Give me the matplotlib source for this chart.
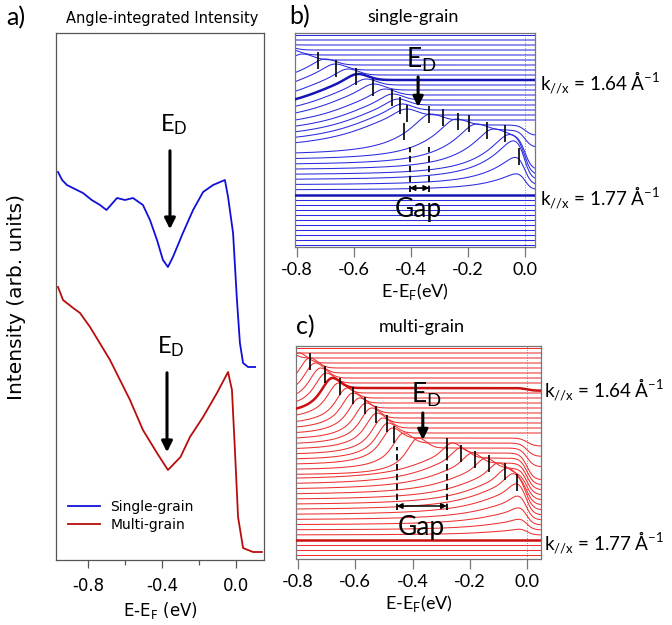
import numpy as np
import matplotlib.pyplot as plt
from matplotlib.ticker import FixedLocator, FormatStrFormatter

plt.rcParams['axes.unicode_minus'] = False

# ---- panel a: angle-integrated intensity (arb. units)
a_energy_single = [-0.962, -0.94, -0.914, -0.86, -0.827, -0.78, -0.735, -0.70, -0.643, -0.60,
                   -0.557, -0.503, -0.465, -0.427, -0.395, -0.368, -0.341, -0.287, -0.232,
                   -0.178, -0.124, -0.06, -0.043, -0.016, 0.005, 0.021, 0.038, 0.065, 0.103]
a_int_single = [388, 380, 375, 370, 367, 360, 355, 350, 362, 360,
                362, 355, 340, 320, 300, 293, 303, 327, 350,
                368, 375, 380, 363, 327, 260, 217, 197, 193, 193]
a_energy_multi = [-0.962, -0.935, -0.88, -0.843, -0.789, -0.73, -0.681, -0.573, -0.503, -0.427,
                  -0.368, -0.30, -0.249, -0.178, -0.103, -0.043, -0.022, -0.006, 0.011,
                  0.038, 0.092, 0.140]
a_int_multi = [273, 260, 252, 247, 233, 215, 200, 160, 130, 107,
               90, 103, 123, 143, 167, 188, 170, 110, 43,
               12, 8, 8]

# ---- panel b: EDC stack, single grain (top curve first)
b_peak_energy = [-1.0, -0.95, -0.90, -0.86, -0.83, -0.78, -0.70, -0.665, -0.62, -0.585,
                 -0.556, -0.53, -0.49, -0.463, -0.445, -0.43, -0.415, -0.33, -0.24, -0.17,
                 -0.11, -0.05, -0.03, -0.015, -0.005, 0.0, 0.05, 0.05, 0.05, 0.05,
                 0.05, 0.05, 0.05, 0.05, 0.05, 0.05]
b_peak_rise = [35] * 23 + [26, 16] + [0] * 11
b_peak_width = [0.2] * 17 + [0.12] * 19
b_fermi_cut = [0] * 18 + [0.3, 0.5] + [1] * 16
b_thick = [9, 25]
b_disp_energy = [-0.725, -0.662, -0.592, -0.533, -0.466, -0.438, -0.413, -0.424,
                 -0.336, -0.287, -0.235, -0.196, -0.133, -0.070, -0.021]
b_disp_level = [186.5, 178.5, 170.5, 159.5, 150, 142, 133.5, 115.5,
                132.5, 129.5, 125.5, 123.5, 117, 113.5, 91]
b_gap = [-0.405, -0.336]

# ---- panel c: EDC stack, multi grain
c_peak_energy = [-1.0, -0.9, -0.85, -0.797, -0.759, -0.74, -0.721, -0.702, -0.68, -0.658,
                 -0.628, -0.608, -0.585, -0.562, -0.543, -0.524, -0.503, -0.485, -0.47, -0.43,
                 -0.38, -0.26, -0.231, -0.19, -0.143, -0.10, -0.068, -0.045, -0.03, -0.022,
                 -0.016, -0.012, -0.008, 0.0, 0.05, 0.05, 0.05]
c_peak_rise = [27] * 28 + [24, 19, 14, 9, 5, 0, 0, 0, 0]
c_peak_width = [0.07] * 21 + [0.15] * 16
c_fermi_cut = [0] * 8 + [0.1] + [0] * 9 + [0.3, 0.5, 0.7] + [1] * 16
c_thick = [8, 33]
c_disp_energy = [-0.759, -0.706, -0.654, -0.608, -0.566, -0.528, -0.490, -0.465,
                 -0.280, -0.231, -0.182, -0.133, -0.077, -0.035]
c_disp_level = [198, 184.5, 172.5, 163.5, 154, 144.5, 135.5, 124.5,
                112.5, 105.5, 100, 95.5, 87.5, 77]
c_gap = [-0.455, -0.280]

LABEL_FONT = 'Lato'
TEXT_FONT = 'DejaVu Sans'


def edc(energy, peak, rise, width, cut, bump_frac, bump_width, kt=0.012):
    arc = np.where(energy < peak, 1 / (1 + ((peak - energy) / width) ** 2), 1.0)
    bump = bump_frac * np.exp(-((energy - peak) / bump_width) ** 2)
    fermi = 1 / (1 + np.exp(energy / kt))
    return rise * (arc + bump) * (1 - cut * (1 - fermi))


def style_frame(ax, color):
    for spine in ax.spines.values():
        spine.set_color(color)
        spine.set_linewidth(0.9)
    ax.set_yticks([])


def plot_angle_integrated(ax):
    ax.plot(a_energy_single, a_int_single, color='#1010d8', lw=1.3, label='Single-grain')
    ax.plot(a_energy_multi, a_int_multi, color='#b80d0d', lw=1.3, label='Multi-grain')
    ax.set_xlim(-0.973, 0.151)
    ax.set_ylim(0, 527)
    style_frame(ax, '#555555')
    ax.xaxis.set_major_locator(FixedLocator([-0.8, -0.4, 0.0]))
    ax.xaxis.set_minor_locator(FixedLocator([-0.6, -0.2]))
    ax.xaxis.set_major_formatter(FormatStrFormatter('%.1f'))
    ax.tick_params(axis='x', which='major', direction='out', length=6, width=0.9,
                   color='#555555', labelsize=12, pad=6)
    ax.tick_params(axis='x', which='minor', direction='out', length=3.5, width=0.9,
                   color='#555555')
    ax.set_xlabel('E-E$_{\\mathregular{F}}$ (eV)', fontsize=12, family=TEXT_FONT, labelpad=4)

    for xe, tail, tip, ty in [(-0.357, 412, 328, 435), (-0.373, 190, 105, 213)]:
        ax.annotate('', xy=(xe, tip), xytext=(xe, tail),
                    arrowprops=dict(arrowstyle='-|>', lw=2.2, color='k', mutation_scale=16))
        ax.text(xe + 0.02, ty, r'$\mathregular{E_D}$', fontsize=17, family=LABEL_FONT,
                ha='center', va='center')

    ax.legend(loc='lower left', bbox_to_anchor=(0.0, 0.03), frameon=False,
              handlelength=2.3, handletextpad=0.7, labelspacing=0.25,
              prop={'family': TEXT_FONT, 'size': 10})


def plot_stack(ax, peaks, rises, widths, cuts, thick, low_top, bump, xlim, ylim,
               color, thick_color):
    energy = np.linspace(xlim[0], xlim[1], 600)
    for i, (peak, rise, width, cut) in enumerate(zip(peaks, rises, widths, cuts)):
        y = low_top - 5 * i + edc(energy, peak, rise, width, cut, *bump)
        if i in thick:
            ax.plot(energy, y, color=thick_color, lw=1.8, zorder=3)
        else:
            ax.plot(energy, y, color=color, lw=0.75, zorder=2)
    ax.axvline(0.0, color='0.55', lw=0.7, ls=':', zorder=1)
    ax.set_xlim(*xlim)
    ax.set_ylim(*ylim)
    style_frame(ax, '#777777')
    ax.set_xticks([-0.8, -0.6, -0.4, -0.2, 0.0])
    ax.xaxis.set_major_formatter(FormatStrFormatter('%.1f'))
    ax.tick_params(axis='x', direction='out', length=7, width=0.9, color='#777777',
                   labelsize=13, pad=4)
    for label in ax.get_xticklabels():
        label.set_family(LABEL_FONT)
    ax.set_xlabel('E-E$_{\\mathregular{F}}$(eV)', fontsize=13, family=LABEL_FONT, labelpad=2)


def mark_dispersion(ax, energies, levels, half=8.5):
    levels = np.asarray(levels)
    ax.vlines(energies, levels - half, levels + half, color='k', lw=1.2, zorder=5)


def mark_gap(ax, gap, y_bottom, y_top, y_arrow, gap_y, ed_x, ed_tail, ed_tip, ed_y):
    for xg in gap:
        ax.plot([xg, xg], [y_bottom, y_top], color='k', lw=1.3, ls=(0, (3.5, 2)), zorder=5)
    ax.annotate('', xy=(gap[1], y_arrow), xytext=(gap[0], y_arrow),
                arrowprops=dict(arrowstyle='<|-|>', lw=1.1, color='k', mutation_scale=8,
                                shrinkA=0, shrinkB=0), zorder=6)
    ax.text(np.mean(gap) - 0.002, gap_y, 'Gap', fontsize=19, family=LABEL_FONT,
            ha='center', va='center', zorder=6)
    ax.annotate('', xy=(ed_x, ed_tip), xytext=(ed_x, ed_tail),
                arrowprops=dict(arrowstyle='-|>', lw=2.2, color='k', mutation_scale=15,
                                shrinkA=0, shrinkB=0), zorder=6)
    ax.text(ed_x + 0.012, ed_y, r'$\mathregular{E_D}$', fontsize=19, family=LABEL_FONT,
            ha='center', va='center', zorder=6)


def main():
    fig = plt.figure(figsize=(6.72, 6.25), dpi=100)
    ax_a = fig.add_axes([0.0833, 0.104, 0.3095, 0.8432])
    ax_b = fig.add_axes([0.439, 0.6048, 0.357, 0.3424])
    ax_c = fig.add_axes([0.4405, 0.1056, 0.3646, 0.3408])

    plot_angle_integrated(ax_a)

    plot_stack(ax_b, b_peak_energy, b_peak_rise, b_peak_width, b_fermi_cut, b_thick,
               177, (6 / 35, 0.05), (-0.807, 0.035), (0, 214), '#2a2ae0', '#1616b8')
    mark_dispersion(ax_b, b_disp_energy, b_disp_level)
    mark_gap(ax_b, b_gap, 55, 100, 59, 37, -0.375, 170, 140, 187)

    plot_stack(ax_c, c_peak_energy, c_peak_rise, c_peak_width, c_fermi_cut, c_thick,
               184, (10 / 27, 0.04), (-0.807, 0.049), (0, 213), '#ee3030', '#cc1010')
    mark_dispersion(ax_c, c_disp_energy, c_disp_level)
    mark_gap(ax_c, c_gap, 49, 112, 53, 32, -0.364, 146, 119, 164)

    fig.text(0.024, 0.971, 'a)', fontsize=18, family=LABEL_FONT, ha='center', va='center')
    fig.text(0.241, 0.971, 'Angle-integrated Intensity', fontsize=10.5, family=TEXT_FONT,
             ha='center', va='center')
    fig.text(0.025, 0.525, 'Intensity (arb. units)', fontsize=14.5, family=TEXT_FONT,
             rotation=90, ha='center', va='center')
    fig.text(0.446, 0.973, 'b)', fontsize=18, family=LABEL_FONT, ha='center', va='center')
    fig.text(0.615, 0.973, 'single-grain', fontsize=13, family=LABEL_FONT, ha='center', va='center')
    fig.text(0.454, 0.477, 'c)', fontsize=18, family=LABEL_FONT, ha='center', va='center')
    fig.text(0.628, 0.477, 'multi-grain', fontsize=13, family=LABEL_FONT, ha='center', va='center')

    k_labels = [(0.804, 0.856, '1.64'), (0.804, 0.672, '1.77'),
                (0.809, 0.365, '1.64'), (0.809, 0.12, '1.77')]
    for xf, yf, kval in k_labels:
        fig.text(xf, yf, 'k$_{\\mathregular{//x}}$ = ' + kval + ' Å$^{\\mathregular{-1}}$',
                 fontsize=13.5, family=LABEL_FONT, ha='left', va='baseline')

    fig.savefig('out.png', dpi=100)


if __name__ == '__main__':
    main()
